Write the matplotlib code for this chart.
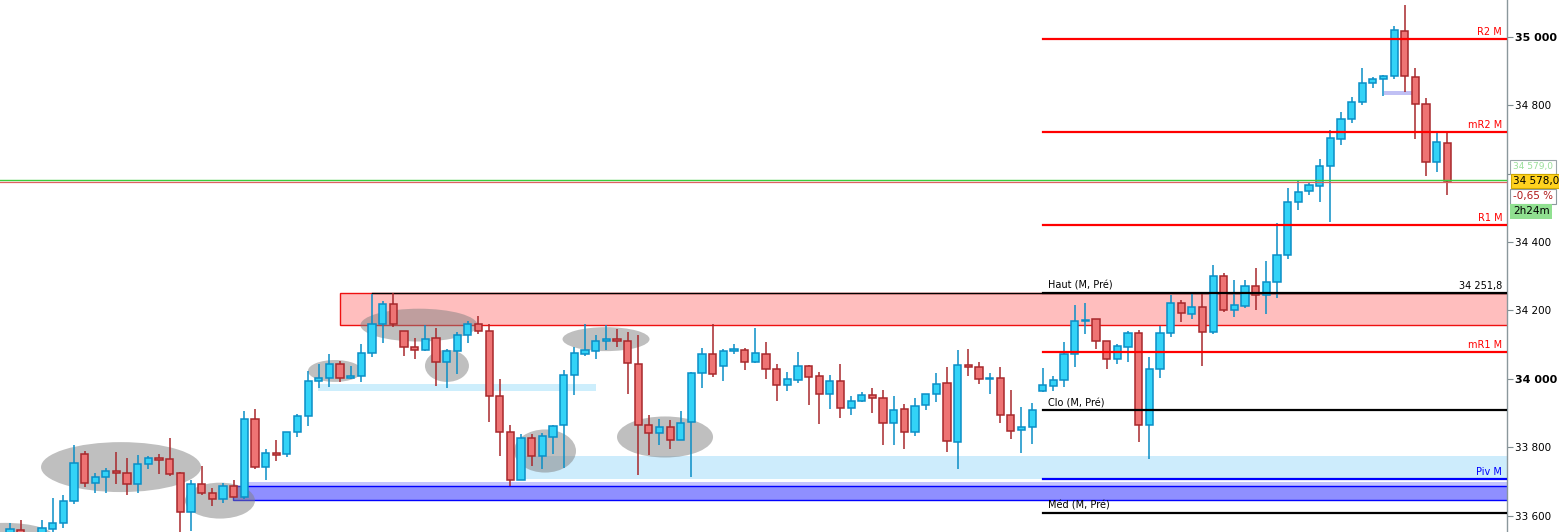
import numpy as np
import matplotlib
matplotlib.use("Agg")
import matplotlib.pyplot as plt
from matplotlib.patches import Rectangle, Ellipse
from matplotlib.transforms import blended_transform_factory

# --- bougies (OHLC) ---
opens = [33541, 33557, 33525, 33540, 33560, 33578, 33642, 33780, 33695, 33714,
         33730, 33724, 33692, 33750, 33768, 33765, 33724, 33610, 33692, 33665,
         33648, 33686, 33655, 33882, 33743, 33782, 33779, 33844, 33890, 33993,
         34002, 34042, 34003, 34007, 34075, 34159, 34218, 34139, 34092, 34083,
         34118, 34048, 34080, 34127, 34159, 34139, 33949, 33844, 33703, 33826,
         33774, 33829, 33864, 34010, 34072, 34080, 34110, 34116, 34110, 34042,
         33864, 33841, 33858, 33820, 33873, 34016, 34072, 34037, 34080, 34083,
         34048, 34072, 34028, 33981, 33996, 34037, 34007, 33955, 33993, 33914,
         33934, 33952, 33943, 33870, 33911, 33844, 33923, 33955, 33987, 33815,
         34040, 34034, 33999, 34002, 33893, 33850, 33858, 33964, 33978, 33996,
         34072, 34168, 34174, 34110, 34057, 34092, 34133, 33864, 34028, 34133,
         34221, 34189, 34209, 34136, 34300, 34200, 34212, 34270, 34244, 34282,
         34361, 34516, 34548, 34563, 34621, 34700, 34759, 34808, 34864, 34876,
         34884, 35016, 34881, 34802, 34633, 34688]
highs = [33578, 33587, 33549, 33587, 33652, 33660, 33807, 33790, 33724, 33739,
         33787, 33769, 33777, 33774, 33780, 33827, 33728, 33704, 33745, 33682,
         33695, 33704, 33906, 33912, 33795, 33821, 33844, 33896, 34024, 34043,
         34073, 34052, 34037, 34102, 34248, 34228, 34252, 34139, 34118, 34156,
         34148, 34086, 34136, 34168, 34183, 34159, 33999, 33865, 33838, 33838,
         33841, 33865, 34025, 34092, 34159, 34127, 34156, 34145, 34136, 34127,
         33893, 33882, 33879, 33905, 34019, 34089, 34159, 34086, 34101, 34089,
         34148, 34107, 34042, 34019, 34078, 34040, 34019, 34010, 34042, 33949,
         33961, 33972, 33966, 33949, 33925, 33943, 33955, 34016, 34034, 34083,
         34086, 34048, 34016, 34034, 33966, 33918, 33928, 34031, 34007, 34107,
         34215, 34221, 34174, 34110, 34101, 34139, 34142, 34063, 34154, 34244,
         34230, 34250, 34250, 34332, 34308, 34288, 34288, 34323, 34343, 34455,
         34557, 34578, 34571, 34642, 34726, 34779, 34823, 34908, 34881, 34887,
         35030, 35092, 34908, 34820, 34718, 34718]
lows = [33529, 33523, 33515, 33530, 33552, 33565, 33634, 33685, 33667, 33667,
        33693, 33661, 33665, 33736, 33722, 33717, 33552, 33556, 33660, 33628,
        33636, 33655, 33649, 33737, 33704, 33761, 33772, 33831, 33863, 33973,
        33977, 33990, 33999, 33992, 34065, 34106, 34152, 34068, 34059, 34080,
        33980, 33974, 34015, 34106, 34130, 33875, 33775, 33688, 33703, 33746,
        33737, 33781, 33740, 33954, 34066, 34057, 34083, 34092, 33955, 33718,
        33777, 33806, 33794, 33820, 33712, 33972, 34004, 33993, 34072, 34025,
        34045, 34000, 33936, 33964, 33987, 33923, 33867, 33911, 33885, 33893,
        33931, 33899, 33806, 33806, 33794, 33832, 33908, 33931, 33785, 33736,
        34007, 33984, 33955, 33870, 33823, 33782, 33809, 33961, 33964, 33975,
        34034, 34130, 34086, 34028, 34042, 34048, 33815, 33766, 34002, 34121,
        34165, 34174, 34037, 34130, 34194, 34180, 34206, 34200, 34189, 34235,
        34349, 34493, 34536, 34516, 34458, 34683, 34747, 34800, 34849, 34826,
        34876, 34837, 34700, 34592, 34604, 34536]
closes = [33560, 33538, 33545, 33563, 33578, 33642, 33753, 33696, 33712, 33730,
          33724, 33692, 33750, 33768, 33764, 33723, 33610, 33692, 33665, 33648,
          33686, 33655, 33882, 33743, 33782, 33777, 33844, 33890, 33993, 34002,
          34042, 34003, 34007, 34075, 34159, 34218, 34159, 34092, 34083, 34116,
          34048, 34080, 34127, 34159, 34139, 33949, 33844, 33703, 33826, 33774,
          33832, 33861, 34010, 34075, 34083, 34110, 34116, 34110, 34045, 33864,
          33841, 33858, 33820, 33870, 34016, 34072, 34013, 34080, 34086, 34048,
          34075, 34028, 33981, 33999, 34037, 34004, 33955, 33993, 33914, 33934,
          33952, 33943, 33870, 33908, 33844, 33920, 33955, 33984, 33817, 34040,
          34034, 33999, 34002, 33893, 33847, 33858, 33908, 33981, 33996, 34072,
          34168, 34171, 34110, 34057, 34095, 34133, 33864, 34028, 34133, 34221,
          34192, 34209, 34136, 34300, 34200, 34215, 34270, 34244, 34282, 34361,
          34516, 34545, 34566, 34621, 34703, 34759, 34808, 34864, 34876, 34884,
          35019, 34884, 34802, 34633, 34691, 34578]

# --- niveaux mensuels ---
level_names = ["R2 M", "mR2 M", "R1 M", "mR1 M", "Piv M"]
level_values = [34994, 34722, 34450, 34079, 33708]
level_colors = ["#ff0000", "#ff0000", "#ff0000", "#ff0000", "#0000ff"]
prev_names = ["Haut (M, Pré)", "Clo (M, Pré)", "Méd (M, Pré)"]
prev_values = [34251.8, 33909.7, 33608.7]
last_price = 34578.0
green_line = 34581
change_pct = "-0,65 %"
countdown = "2h24m"

# --- zones (x0, x1 en index de bougie, bas, haut) ---
zones_x0 = [31.0, 28.9, 48.1, 22.35, 20.97, 129.05]
zones_x1 = [141.0, 55.04, 141.0, 141.0, 141.0, 131.7]
zones_lo = [34156.4, 33963.8, 33707.2, 33685.8, 33644.9, 34830.5]
zones_hi = [34251.8, 33984.9, 33774.4, 33698.4, 33685.8, 34841.3]
zones_fc = ["#ffbebe", "#cdeefc", "#cdecfc", "#c3c3ff", "#8f8fff", "#c0c0f4"]
zones_ec = ["#ee1111", "none", "none", "none", "#0000ff", "none"]

# --- ellipses grises (centre idx, centre prix, largeur idx, hauteur prix) ---
ell_x = [10.43, 19.72, -0.47, 30.52, 38.41, 41.04, 50.25, 55.98, 61.52]
ell_y = [33742, 33644, 33535, 34023, 34157, 34038, 33789, 34116, 33830]
ell_w = [15.03, 6.57, 9.39, 5.07, 10.99, 4.13, 5.82, 8.17, 9.02]
ell_h = [146, 105, 88, 64, 96, 94, 126, 70, 120]

ticks = [33600, 33800, 34000, 34200, 34400, 34600, 34800, 35000]
hidden_ticks = [34600]  # masqué par les étiquettes de prix

fig = plt.figure(figsize=(15.59, 5.32), dpi=100)
ax = fig.add_axes([0, 0, 1507 / 1559, 1])
ax.set_xlim(-0.939, 140.6)
ax.set_ylim(33552.3, 35107.3)
xmax = 140.6
lvl_x0 = 97.0

for x0, x1, lo, hi, fc, ec in zip(zones_x0, zones_x1, zones_lo, zones_hi, zones_fc, zones_ec):
    ax.add_patch(Rectangle((x0, lo), x1 - x0, hi - lo, facecolor=fc,
                           edgecolor=ec, lw=1.0, zorder=1))
# haut de la zone rose
ax.plot([34.0, xmax], [prev_values[0]] * 2, color="black", lw=1.0, zorder=1.5)

for cx, cy, w, h in zip(ell_x, ell_y, ell_w, ell_h):
    ax.add_patch(Ellipse((cx, cy), w, h, facecolor="#808080", alpha=0.5,
                         edgecolor="none", zorder=2))

# bougies
idx = np.arange(len(opens))
bw = 0.68
for i, o, h, l, c in zip(idx, opens, highs, lows, closes):
    up = c >= o
    fc = "#33d3f7" if up else "#ee7474"
    ec = "#0a8ec6" if up else "#a8282c"
    ax.plot([i, i], [l, h], color=ec, lw=1.1, zorder=3, solid_capstyle="butt")
    lo_b, hi_b = min(o, c), max(o, c)
    ax.add_patch(Rectangle((i - bw / 2, lo_b), bw, max(hi_b - lo_b, 1.5),
                           facecolor=fc, edgecolor=ec, lw=1.1, zorder=4))

# lignes de prix courant
ax.axhline(green_line, color="#3ccc3c", lw=1.0, zorder=5)
ax.axhline(last_price - 3, color="#e06060", lw=0.9, zorder=5)

# niveaux pivots
for name, val, col in zip(level_names, level_values, level_colors):
    ax.plot([lvl_x0, xmax], [val, val], color=col, lw=1.6, zorder=6)
    ax.text(xmax - 0.45, val + 5, name, color=col, fontsize=7, ha="right",
            va="bottom", zorder=7)
for name, val in zip(prev_names, prev_values):
    ax.plot([lvl_x0, xmax], [val, val], color="black", lw=1.6, zorder=6)
    ax.text(lvl_x0 + 0.45, val + 5, name, color="black", fontsize=7,
            ha="left", va="bottom", zorder=7)
ax.text(xmax - 0.45, prev_values[0] + 5, "34 251,8", color="black",
        fontsize=7, ha="right", va="bottom", zorder=7)

# axe des prix
ax.yaxis.tick_right()
ax.set_yticks(ticks)
ax.set_yticklabels(["" if t in hidden_ticks else f"{t:,}".replace(",", " ")
                    for t in ticks])
ax.tick_params(axis="y", length=4, width=0.8, color="#7f8c90", pad=2,
               labelsize=7.5)
for lab, t in zip(ax.get_yticklabels(), ticks):
    if t % 1000 == 0:
        lab.set_fontweight("bold")
        lab.set_fontsize(8)
ax.set_xticks([])
for s in ["left", "top", "bottom"]:
    ax.spines[s].set_visible(False)
ax.spines["right"].set_color("#8a979c")
ax.spines["right"].set_linewidth(1.0)

# étiquettes à droite
tr = blended_transform_factory(ax.transAxes, ax.transData)
ax.text(1.004, 34620, "34 579,0", transform=tr, fontsize=6.5, color="#9adf9a",
        ha="left", va="center", clip_on=False, zorder=8,
        bbox=dict(boxstyle="square,pad=0.3", fc="white", ec="#9aa5aa", lw=0.8))
ax.text(1.004, last_price, "34 578,0", transform=tr, fontsize=7.5, color="black",
        ha="left", va="center", clip_on=False, zorder=9,
        bbox=dict(boxstyle="square,pad=0.18", fc="#ffd21f", ec="#d0a800", lw=0.8))
ax.text(1.004, 34534, change_pct, transform=tr, fontsize=7.5, color="#b01818",
        ha="left", va="center", clip_on=False, zorder=8,
        bbox=dict(boxstyle="square,pad=0.25", fc="white", ec="#8c9aa0", lw=0.8))
ax.text(1.004, 34490, countdown, transform=tr, fontsize=7.5, color="black",
        ha="left", va="center", clip_on=False, zorder=8,
        bbox=dict(boxstyle="square,pad=0.25", fc="#90e090", ec="none"))

fig.savefig("out.png", dpi=100)
